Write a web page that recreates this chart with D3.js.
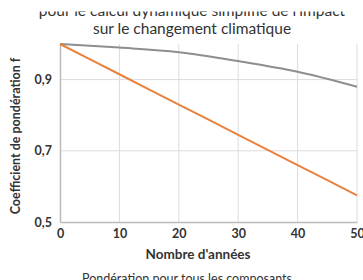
<!DOCTYPE html>
<html>
<head>
<meta charset="utf-8">
<script src="https://cdn.jsdelivr.net/npm/d3@7"></script>
<style>
  body { margin: 0; background: #fff; }
  svg { display: block; font-family: Lato, sans-serif; }
</style>
</head>
<body>
<svg width="363" height="280"></svg>
<script>
var years = [0, 10, 20, 30, 40, 50];
var grayValues = [1.0, 0.99, 0.977, 0.952, 0.922, 0.88];
var orangeValues = [1.0, 0.915, 0.83, 0.745, 0.66, 0.575];
var yTicks = [0.5, 0.7, 0.9];
var titleLines = ["pour le calcul dynamique simplifié de l'impact", "sur le changement climatique"];

var margin = {top: 44, right: 6, bottom: 58, left: 60},
    width = 363, height = 280;

var svg = d3.select("svg");

var x = d3.scaleLinear().domain([0, 50]).range([margin.left, width - margin.right]);
var y = d3.scaleLinear().domain([0.5, 1.0]).range([height - margin.bottom, margin.top]);

// grid
svg.append("g").selectAll("line.v")
    .data(years.slice(1))
    .enter().append("line")
    .attr("x1", function(d) { return x(d); })
    .attr("x2", function(d) { return x(d); })
    .attr("y1", y(1.0))
    .attr("y2", y(0.5))
    .attr("stroke", "#dcdcdc");

svg.append("g").selectAll("line.h")
    .data(yTicks.slice(1))
    .enter().append("line")
    .attr("x1", x(0))
    .attr("x2", x(50))
    .attr("y1", function(d) { return y(d); })
    .attr("y2", function(d) { return y(d); })
    .attr("stroke", "#dcdcdc");

// axes
var xAxis = svg.append("g")
    .attr("transform", "translate(0," + y(0.5) + ")")
    .call(d3.axisBottom(x).tickValues(years).tickSize(0).tickPadding(7));
var yAxis = svg.append("g")
    .attr("transform", "translate(" + x(0) + ",0)")
    .call(d3.axisLeft(y).tickValues(yTicks).tickSize(0).tickPadding(8)
      .tickFormat(function(d) { return d3.format(".1f")(d).replace(".", ","); }));

[xAxis, yAxis].forEach(function(a) {
  a.select(".domain").attr("stroke", "#bbb").attr("stroke-width", 1.5);
  a.selectAll("text")
    .attr("font-family", "Lato, sans-serif")
    .attr("font-size", 12.5)
    .attr("font-weight", "bold")
    .attr("fill", "#333");
});

// lines
var line = d3.line()
    .x(function(d) { return x(d[0]); })
    .y(function(d) { return y(d[1]); })
    .curve(d3.curveMonotoneX);

svg.append("path")
    .datum(d3.zip(years, grayValues))
    .attr("d", line)
    .attr("fill", "none")
    .attr("stroke", "#8e8e8e")
    .attr("stroke-width", 2);

svg.append("path")
    .datum(d3.zip(years, orangeValues))
    .attr("d", line)
    .attr("fill", "none")
    .attr("stroke", "#e8823d")
    .attr("stroke-width", 2);

// title (top of first line is hidden in the source crop)
svg.append("g").selectAll("text")
    .data(titleLines)
    .enter().append("text")
    .attr("x", 192)
    .attr("y", function(d, i) { return 16 + i * 17.5; })
    .attr("text-anchor", "middle")
    .attr("font-size", 15.5)
    .attr("fill", "#333")
    .text(function(d) { return d; });

svg.append("rect")
    .attr("x", 0).attr("y", 0)
    .attr("width", width).attr("height", 11.5)
    .attr("fill", "#fff");

// axis titles
svg.append("text")
    .attr("x", 198)
    .attr("y", 259)
    .attr("text-anchor", "middle")
    .attr("font-size", 13.5)
    .attr("font-weight", "bold")
    .attr("fill", "#333")
    .text("Nombre d'années");

svg.append("text")
    .attr("transform", "translate(20,136) rotate(-90)")
    .attr("text-anchor", "middle")
    .attr("font-size", 12.5)
    .attr("font-weight", "bold")
    .attr("fill", "#333")
    .text("Coefficient de pondération f");

svg.append("text")
    .attr("x", 187)
    .attr("y", 283)
    .attr("text-anchor", "middle")
    .attr("font-size", 12.5)
    .attr("fill", "#333")
    .text("Pondération pour tous les composants");
</script>
</body>
</html>
